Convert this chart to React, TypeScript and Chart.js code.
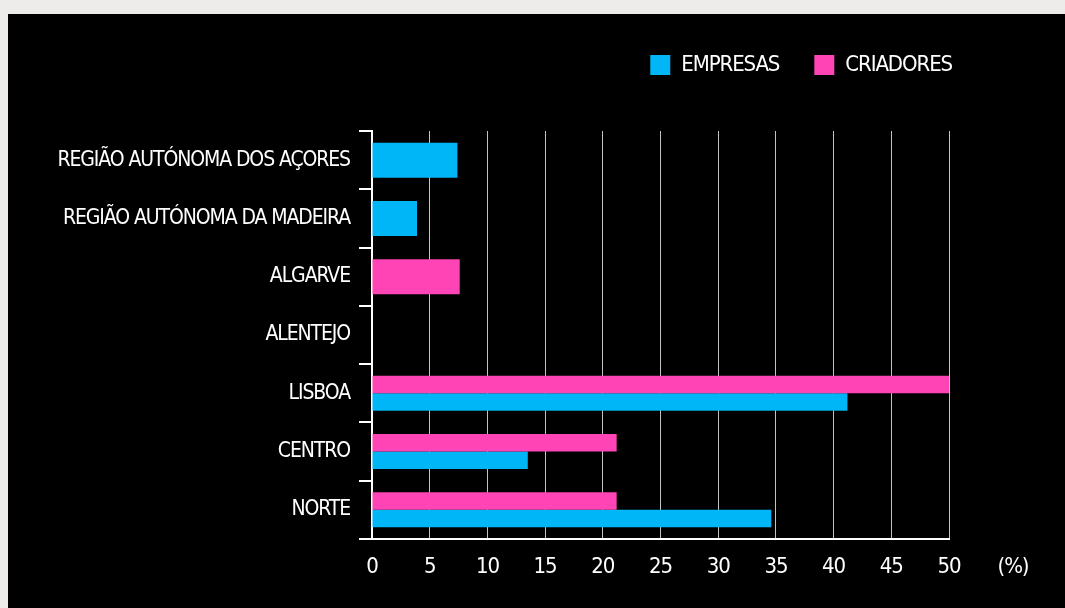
import React, { useEffect, useRef } from "react";
import { Chart, registerables } from "chart.js";

Chart.register(...registerables);

const categories = [
  "REGIÃO AUTÓNOMA DOS AÇORES",
  "REGIÃO AUTÓNOMA DA MADEIRA",
  "ALGARVE",
  "ALENTEJO",
  "LISBOA",
  "CENTRO",
  "NORTE",
];
const empresas: (number | null)[] = [7.4, 3.9, null, null, 41.2, 13.5, 34.6];
const criadores: (number | null)[] = [null, null, 7.6, null, 50, 21.2, 21.2];
const xTicks = [0, 5, 10, 15, 20, 25, 30, 35, 40, 45, 50];
const unitLabel = "(%)";

const BLUE = "#00B6F7";
const PINK = "#FF44B5";
const FONT = '"Liberation Sans Narrow", "DejaVu Sans Condensed", "Roboto", sans-serif';
const SPACING = "-1.1px";

export default function App() {
  const ref = useRef<HTMLCanvasElement | null>(null);

  useEffect(() => {
    document.body.style.background = "#eeeceb";
    document.body.style.overflow = "hidden";
    const canvas = ref.current;
    if (!canvas) return;

    const setSpacing = (chart: any) => {
      try {
        (chart.ctx as any).letterSpacing = SPACING;
      } catch (e) {}
    };

    const fixLegend = {
      id: "fixLegend",
      beforeInit(chart: any) {
        const legend = chart.legend;
        if (legend) {
          const orig = legend.fit.bind(legend);
          legend.fit = function () {
            setSpacing(chart);
            orig();
            this.height = 112;
          };
        }
      },
      beforeLayout(chart: any) {
        setSpacing(chart);
      },
      afterLayout(chart: any) {
        const l = chart.legend;
        if (l) {
          l.left += 38;
          l.right += 38;
        }
      },
      beforeDraw(chart: any) {
        setSpacing(chart);
      },
      afterDraw(chart: any) {
        const ctx = chart.ctx;
        const xs = chart.scales.x;
        ctx.save();
        ctx.font = `22px ${FONT}`;
        ctx.fillStyle = "#ffffff";
        ctx.textAlign = "center";
        ctx.textBaseline = "middle";
        ctx.fillText(unitLabel, xs.getPixelForValue(50) + 64, chart.chartArea.bottom + 28);
        ctx.restore();
      },
    };

    const chart = new Chart(canvas, {
      type: "bar",
      data: {
        labels: categories,
        datasets: [
          {
            label: "CRIADORES",
            data: criadores,
            backgroundColor: PINK,
            borderWidth: 0,
            categoryPercentage: 0.6,
            barPercentage: 1,
            skipNull: true,
          } as any,
          {
            label: "EMPRESAS",
            data: empresas,
            backgroundColor: BLUE,
            borderWidth: 0,
            categoryPercentage: 0.6,
            barPercentage: 1,
            skipNull: true,
          } as any,
        ],
      },
      options: {
        indexAxis: "y",
        animation: false,
        responsive: false,
        maintainAspectRatio: false,
        layout: { padding: { top: 5, right: 116, left: 0, bottom: 0 } },
        font: { family: FONT },
        plugins: {
          legend: {
            position: "top",
            align: "end",
            reverse: true,
            labels: {
              boxWidth: 20,
              boxHeight: 20,
              padding: 35,
              color: "#ffffff",
              font: { size: 22, family: FONT },
            },
          },
          tooltip: { enabled: false },
        },
        scales: {
          x: {
            type: "linear",
            min: 0,
            max: 50,
            afterBuildTicks: (s: any) => {
              s.ticks = xTicks.map((v) => ({ value: v }));
            },
            afterFit: (s: any) => {
              s.height = 69;
            },
            ticks: {
              color: "#ffffff",
              font: { size: 22, family: FONT },
              padding: 15,
            },
            grid: { color: "#c4c4c4", lineWidth: 1, drawTicks: false },
            border: { display: true, color: "#ffffff", width: 2 },
          },
          y: {
            type: "category",
            afterFit: (s: any) => {
              s.width = 364;
            },
            ticks: {
              color: "#ffffff",
              font: { size: 21, family: FONT },
              padding: 9,
            },
            grid: {
              offset: true,
              drawOnChartArea: false,
              drawTicks: true,
              tickLength: 13,
              color: "#ffffff",
              lineWidth: 2,
            },
            border: { display: true, color: "#ffffff", width: 2 },
          },
        },
      },
      plugins: [fixLegend],
    } as any);

    return () => chart.destroy();
  }, []);

  return (
    <div
      style={{
        position: "fixed",
        left: 8,
        top: 14,
        width: 1057,
        height: 594,
        background: "#000000",
      }}
    >
      <canvas ref={ref} width={1057} height={594} style={{ display: "block" }} />
    </div>
  );
}
